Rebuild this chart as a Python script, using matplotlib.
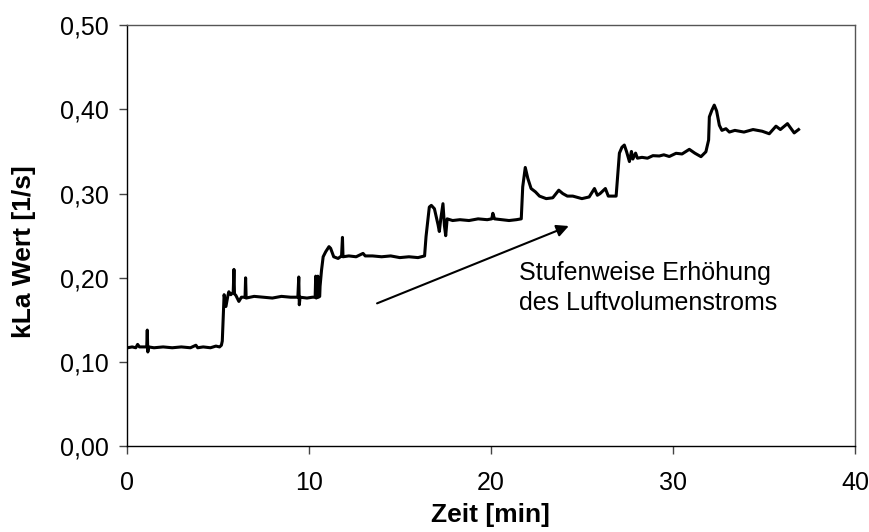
import matplotlib
matplotlib.use("Agg")
import matplotlib.pyplot as plt
from matplotlib.ticker import FuncFormatter

plt.rcParams['font.family'] = ['Liberation Sans', 'DejaVu Sans']

# Zeit [min]
zeit = [0.05, 0.3, 0.5, 0.6, 0.7, 0.9, 1.1, 1.13, 1.16, 1.2, 1.5, 2.0, 2.5, 3.0, 3.5, 3.8, 3.9,
        4.2, 4.6, 4.9, 5.1, 5.2,
        5.25, 5.3, 5.35, 5.45, 5.55, 5.61, 5.72, 5.85, 5.89, 5.92, 6.0, 6.16, 6.3, 6.5, 6.53, 6.56,
        7.0, 7.5, 8.0, 8.5, 9.0, 9.4, 9.45, 9.48, 9.52, 9.9, 10.2, 10.35, 10.38, 10.41, 10.46,
        10.5, 10.53, 10.6,
        10.62, 10.7, 10.79, 10.93, 11.11, 11.2, 11.37, 11.61, 11.8, 11.85, 11.88, 12.2, 12.6,
        12.98, 13.1, 13.5, 14.0, 14.5, 15.0, 15.5, 16.0, 16.36,
        16.44, 16.62, 16.73, 16.9, 17.1, 17.17, 17.25, 17.37, 17.45, 17.52, 17.6, 17.9, 18.3,
        18.8, 19.3, 19.8, 20.05, 20.11, 20.2, 20.6, 21.0, 21.4, 21.67,
        21.75, 21.89, 22.03, 22.21, 22.45, 22.67, 23.04, 23.4, 23.73, 23.95, 24.2, 24.5, 25.0,
        25.4, 25.69, 25.85, 26.0, 26.29, 26.45, 26.65, 26.88,
        27.06, 27.2, 27.33, 27.45, 27.61, 27.72, 27.8, 27.95, 28.05, 28.3, 28.6, 28.9, 29.25,
        29.5, 29.8, 30.17, 30.5, 30.9, 31.2, 31.54, 31.81, 31.96,
        32.0, 32.14, 32.27, 32.4, 32.55, 32.69, 32.91, 33.1, 33.4, 33.9, 34.4, 34.9, 35.29,
        35.66, 35.9, 36.29, 36.66, 36.9]

# kLa Wert [1/s]
kla = [0.117, 0.118, 0.117, 0.121, 0.118, 0.118, 0.118, 0.138, 0.112, 0.118, 0.117, 0.118,
       0.117, 0.118, 0.117, 0.120, 0.117, 0.118, 0.117, 0.119, 0.118, 0.120,
       0.125, 0.154, 0.180, 0.166, 0.178, 0.1835, 0.180, 0.183, 0.210, 0.181, 0.179, 0.172,
       0.177, 0.177, 0.200, 0.176, 0.178, 0.177, 0.176, 0.178, 0.177, 0.177, 0.201, 0.168,
       0.177, 0.176, 0.177, 0.177, 0.202, 0.176, 0.177, 0.202, 0.177, 0.178,
       0.190, 0.209, 0.225, 0.231, 0.237, 0.235, 0.225, 0.223, 0.226, 0.248, 0.225, 0.226,
       0.225, 0.229, 0.226, 0.226, 0.225, 0.226, 0.224, 0.225, 0.224, 0.226,
       0.249, 0.284, 0.286, 0.282, 0.263, 0.255, 0.270, 0.288, 0.262, 0.250, 0.270, 0.268,
       0.269, 0.268, 0.270, 0.269, 0.270, 0.2766, 0.270, 0.269, 0.268, 0.269, 0.270,
       0.308, 0.331, 0.318, 0.306, 0.302, 0.297, 0.294, 0.295, 0.304, 0.300, 0.297, 0.297,
       0.294, 0.296, 0.306, 0.298, 0.300, 0.306, 0.297, 0.297, 0.297,
       0.348, 0.355, 0.3576, 0.350, 0.338, 0.350, 0.341, 0.348, 0.342, 0.343, 0.342, 0.345,
       0.3446, 0.346, 0.344, 0.3478, 0.347, 0.3525, 0.348, 0.3438, 0.3496, 0.3636,
       0.391, 0.399, 0.405, 0.398, 0.381, 0.375, 0.377, 0.373, 0.375, 0.373, 0.376, 0.374,
       0.371, 0.380, 0.376, 0.383, 0.372, 0.376]

x_ticks = [0, 10, 20, 30, 40]
y_ticks = [0.0, 0.1, 0.2, 0.3, 0.4, 0.5]

fig = plt.figure(figsize=(8.69, 5.32), dpi=100)
ax = fig.add_axes([0.1458, 0.161, 0.8381, 0.7919])

ax.plot(zeit, kla, color='black', lw=2.2)

ax.set_xlim(0, 40)
ax.set_ylim(0, 0.5)
ax.set_xticks(x_ticks)
ax.set_yticks(y_ticks)
ax.yaxis.set_major_formatter(FuncFormatter(lambda v, p: f"{v:.2f}".replace('.', ',')))
ax.tick_params(axis='both', labelsize=18, length=6, width=1, color='#444444', direction='out')
ax.tick_params(axis='x', pad=12)
ax.tick_params(axis='y', pad=7)
for s in ax.spines.values():
    s.set_linewidth(1)
    s.set_color('black')
ax.spines['top'].set_color('#555555')
ax.spines['right'].set_color('#555555')

ax.set_xlabel("Zeit [min]", fontsize=19, fontweight='bold', va='center')
ax.set_ylabel("kLa Wert [1/s]", fontsize=19, fontweight='bold', va='center')
ax.xaxis.set_label_coords(0.5, -0.163)
ax.yaxis.set_label_coords(-0.141, 0.462)

# Pfeil und Beschriftung
ax.annotate("", xy=(24.28, 0.2615), xytext=(13.75, 0.1697),
            arrowprops=dict(arrowstyle='-|>', color='black', lw=1.5,
                            mutation_scale=18, shrinkA=0, shrinkB=0))
ax.text(21.53, 0.1618, "Stufenweise Erhöhung\ndes Luftvolumenstroms", fontsize=18,
        ha='left', va='baseline', linespacing=1.3)

fig.savefig("out.png", dpi=100)
